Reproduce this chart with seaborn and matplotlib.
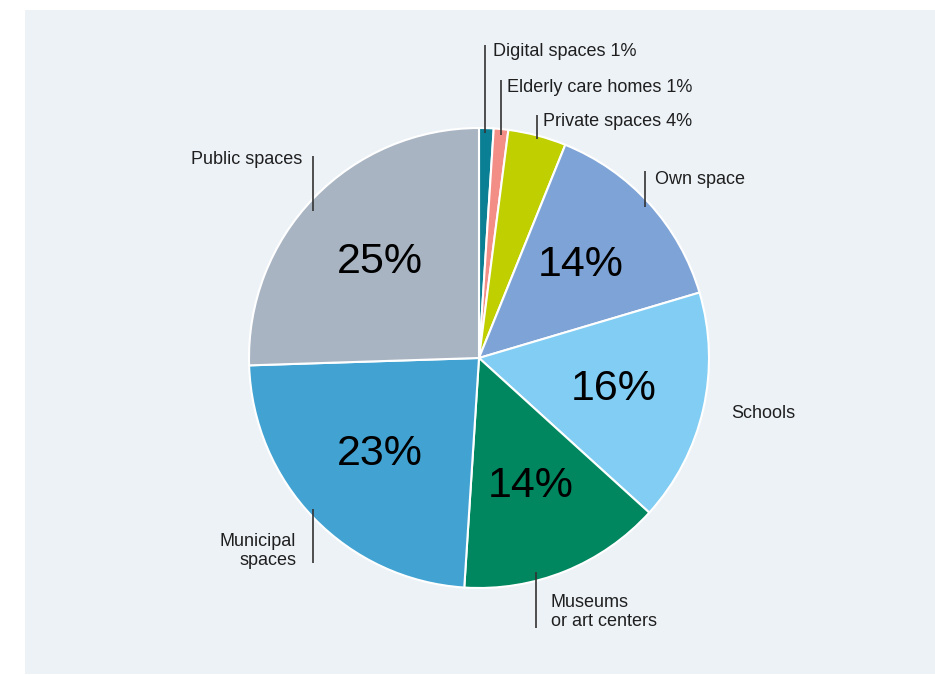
import matplotlib
matplotlib.use("Agg")
import matplotlib.pyplot as plt
from matplotlib.patches import Rectangle
import numpy as np
import seaborn as sns

# Share of venues, in percent, clockwise from the top
categories = ["Digital spaces", "Elderly care homes", "Private spaces", "Own space",
              "Schools", "Museums\nor art centers", "Municipal\nspaces", "Public spaces"]
shares = [1, 1, 4, 14, 16, 14, 23, 25]
slice_colors = ["#0b7f93", "#f28e86", "#bfcf00", "#7ea3d6",
                "#81cdf3", "#00875f", "#42a3d3", "#a8b4c2"]

sns.set_theme(style="white")
plt.rcParams["font.family"] = ["Liberation Sans", "DejaVu Sans"]

W, H = 935, 675
fig = plt.figure(figsize=(W / 100, H / 100), dpi=100, facecolor="white")
ax = fig.add_axes([0, 0, 1, 1])

def Y(y):
    # pixel row measured from the top -> axis coordinate
    return H - y

# tinted panel behind the chart
ax.add_patch(Rectangle((25, Y(674)), W - 25, 664, facecolor="#edf2f7",
                       edgecolor="none", zorder=0))

cx, cy, R = 479, Y(358), 230
palette = sns.color_palette(slice_colors)
wedges, _ = ax.pie(shares, colors=palette, startangle=90, counterclock=False,
                   center=(cx, cy), radius=R,
                   wedgeprops=dict(edgecolor="white", linewidth=1.5))

ink = "#1f1f1f"

# large percentages inside the bigger slices
for w, val in zip(wedges, shares):
    if val < 10:
        continue
    mid = np.deg2rad((w.theta1 + w.theta2) / 2)
    d = 0.6 * R
    ax.text(cx + d * np.cos(mid), cy + d * np.sin(mid), f"{val}%",
            ha="center", va="center", fontsize=31, color="black", zorder=5)

# outside labels with vertical leader lines (x, y_top, y_bottom, text x, text y, align)
layout = {
    "Digital spaces": (485, 45, 133, 493, 52, "left"),
    "Elderly care homes": (501, 80, 135, 507, 87, "left"),
    "Private spaces": (537, 115, 139, 543, 122, "left"),
    "Own space": (645, 171, 207, 655, 179, "left"),
    "Schools": (None, None, None, 731, 413, "left"),
    "Museums\nor art centers": (536, 572, 628, 551, 612, "left"),
    "Municipal\nspaces": (313, 509, 563, 296, 551, "right"),
    "Public spaces": (313, 156, 211, 302, 160, "right"),
}
for name, val in zip(categories, shares):
    lx, y0, y1, tx, ty, ha = layout[name]
    label = f"{name} {val}%" if val < 10 else name
    if lx is not None:
        ax.plot([lx, lx], [Y(y0), Y(y1)], color="#333333", lw=1.2,
                solid_capstyle="butt", zorder=6)
    ax.text(tx, Y(ty), label, ha=ha, va="center", fontsize=13, color=ink,
            multialignment=ha, linespacing=1.17, zorder=6)

ax.set_xlim(0, W)
ax.set_ylim(0, H)
ax.set_aspect("equal", adjustable="box")
ax.axis("off")

fig.savefig("out.png", dpi=100, facecolor="white")
